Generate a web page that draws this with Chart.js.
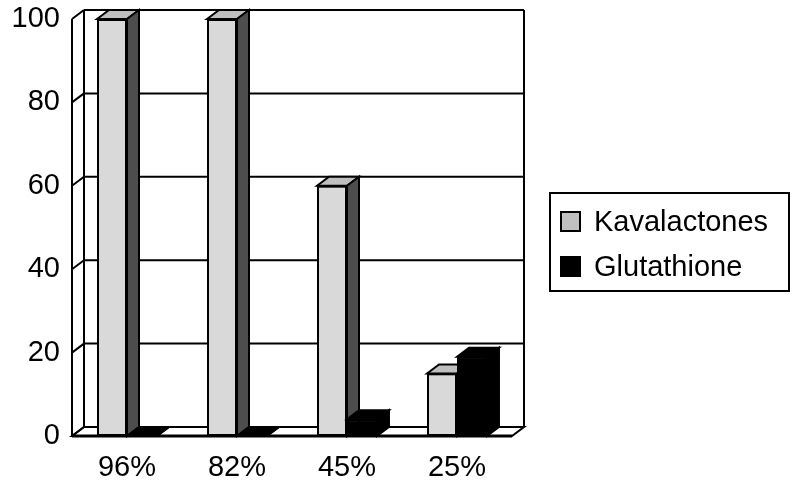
<!DOCTYPE html>
<html>
<head>
<meta charset="utf-8">
<script src="https://cdn.jsdelivr.net/npm/chart.js@4.4.0/dist/chart.umd.min.js"></script>
<style>
  html, body { margin: 0; padding: 0; background: #fff; }
  canvas { display: block; }
</style>
</head>
<body>
<canvas id="myChart" width="792" height="483"></canvas>
<script>
const categories = ['96%', '82%', '45%', '25%'];
const kavalactones = [100, 100, 60, 15];
const glutathione = [0, 0, 4, 19];
const yTicks = [0, 20, 40, 60, 80, 100];

// depth of the fake 3d box, in pixels
const dx = 12;
const dy = -9;
const font = '"Liberation Sans", Arial, Helvetica, sans-serif';

const faces = [
    { front: '#d9d9d9', top: '#bfbfbf', side: '#4d4d4d', key: '#c0c0c0' },
    { front: '#000000', top: '#000000', side: '#000000', key: '#000000' }
];

function poly(ctx, pts, fill) {
    ctx.beginPath();
    ctx.moveTo(pts[0][0], pts[0][1]);
    for (let i = 1; i < pts.length; i++) ctx.lineTo(pts[i][0], pts[i][1]);
    ctx.closePath();
    if (fill) { ctx.fillStyle = fill; ctx.fill(); }
    ctx.stroke();
}

function line(ctx, x1, y1, x2, y2) {
    ctx.beginPath();
    ctx.moveTo(x1, y1);
    ctx.lineTo(x2, y2);
    ctx.stroke();
}

const box3d = {
    id: 'box3d',
    beforeDatasetsDraw(chart) {
        const { ctx, chartArea: a, scales: { y } } = chart;
        const y0 = y.getPixelForValue(0);
        const yTop = y.getPixelForValue(yTicks[yTicks.length - 1]);
        ctx.save();
        ctx.strokeStyle = '#000';
        ctx.lineWidth = 2;
        // floor
        poly(ctx, [[a.left, y0], [a.left + dx, y0 + dy], [a.right + dx, y0 + dy], [a.right, y0]], '#fff');
        // back wall grid and side wall diagonals
        yTicks.forEach(v => {
            const py = y.getPixelForValue(v);
            line(ctx, a.left + dx, py + dy, a.right + dx, py + dy);
            line(ctx, a.left, py, a.left + dx, py + dy);
        });
        line(ctx, a.left, yTop, a.left, y0);
        line(ctx, a.left + dx, yTop + dy, a.left + dx, y0 + dy);
        line(ctx, a.right + dx, yTop + dy, a.right + dx, y0 + dy);
        ctx.lineWidth = 3;
        line(ctx, a.left, y0, a.right, y0);
        ctx.restore();
    },
    afterDatasetsDraw(chart) {
        // redraw every bar left to right so each side face is hidden by the next bar
        const ctx = chart.ctx;
        ctx.save();
        chart.data.datasets.forEach((ds, i) => {
            const f = faces[i];
            chart.getDatasetMeta(i).data.forEach(bar => {
                bar.draw(ctx);
                const p = bar.getProps(['x', 'y', 'base', 'width'], true);
                const l = p.x - p.width / 2;
                const r = p.x + p.width / 2;
                ctx.strokeStyle = '#000';
                ctx.lineWidth = 2;
                ctx.lineJoin = 'miter';
                poly(ctx, [[l, p.y], [l + dx, p.y + dy], [r + dx, p.y + dy], [r, p.y]], f.top);
                poly(ctx, [[r, p.y], [r + dx, p.y + dy], [r + dx, p.base + dy], [r, p.base]], f.side);
            });
        });
        ctx.restore();
    },
    afterDraw(chart) {
        const ctx = chart.ctx;
        ctx.save();
        ctx.strokeStyle = '#000';
        ctx.lineWidth = 2;
        ctx.strokeRect(550, 193, 239, 98);
        ctx.font = '29px ' + font;
        ctx.textBaseline = 'middle';
        ctx.textAlign = 'left';
        chart.data.datasets.forEach((ds, i) => {
            const cy = 222 + i * 45;
            ctx.fillStyle = faces[i].key;
            ctx.fillRect(561, cy - 10, 19, 19);
            ctx.strokeRect(561, cy - 10, 19, 19);
            ctx.fillStyle = '#000';
            ctx.fillText(ds.label, 594, cy + 1);
        });
        ctx.restore();
    }
};

const ctx = document.getElementById('myChart').getContext('2d');
const myChart = new Chart(ctx, {
    type: 'bar',
    data: {
        labels: categories,
        datasets: [{
            label: 'Kavalactones',
            data: kavalactones,
            backgroundColor: faces[0].front,
            borderColor: '#000',
            borderWidth: 2,
            borderSkipped: false
        }, {
            label: 'Glutathione',
            data: glutathione,
            backgroundColor: faces[1].front,
            borderColor: '#000',
            borderWidth: 2,
            borderSkipped: false
        }]
    },
    options: {
        responsive: false,
        animation: false,
        devicePixelRatio: 1,
        categoryPercentage: 0.545,
        barPercentage: 1,
        layout: { padding: { left: 0, right: 280, top: 19, bottom: 0 } },
        scales: {
            x: {
                grid: { display: false, drawTicks: false },
                border: { display: false },
                ticks: { color: '#000', font: { family: font, size: 29 }, padding: 15 },
                afterFit(scale) { scale.height = 47; }
            },
            y: {
                min: 0,
                max: 100,
                grid: { display: false, drawTicks: false },
                border: { display: false },
                ticks: { color: '#000', font: { family: font, size: 29 }, padding: 12 },
                afterBuildTicks(scale) { scale.ticks = yTicks.map(v => ({ value: v })); },
                afterFit(scale) {
                    scale.width = 72;
                    scale.paddingTop = 0;
                    scale.paddingBottom = 0;
                }
            }
        },
        plugins: {
            legend: { display: false },
            tooltip: { enabled: false }
        }
    },
    plugins: [box3d]
});
</script>
</body>
</html>
